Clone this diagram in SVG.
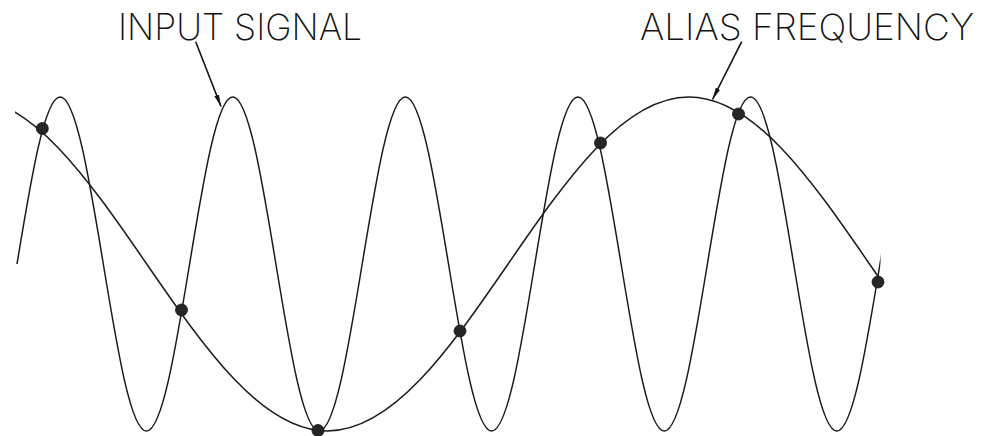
<svg xmlns="http://www.w3.org/2000/svg" width="984" height="436" viewBox="0 0 984 436">
<style>
.curve{fill:none;stroke:#1a1a1a;stroke-width:1.5;stroke-linejoin:round}
.dot{fill:#262626;stroke:#111;stroke-width:0.8}
.lbl{font-family:"Inter","Liberation Sans",sans-serif;font-weight:200;font-size:36px;fill:#111}
.arrow{fill:none;stroke:#111;stroke-width:1.6}
</style>
<defs>
<clipPath id="plot"><rect x="15" y="0" width="865.5" height="436"/></clipPath>
<marker id="ah" markerUnits="userSpaceOnUse" markerWidth="14" markerHeight="8" refX="12" refY="3" orient="auto">
<path d="M0,0.6 L12,3 L0,5.4 Z" fill="#111"/>
</marker>
</defs>
<g id="input-signal" clip-path="url(#plot)">
<path class="curve" d="M17,264 c14.07,-85.55 27.53,-167 43.15,-167
s29.08,81.45 43.15,167 s27.53,167 43.15,167 s29.08,-81.45 43.15,-167 s27.53,-167 43.15,-167
s29.08,81.45 43.15,167 s27.53,167 43.15,167 s29.08,-81.45 43.15,-167 s27.53,-167 43.15,-167
s29.08,81.45 43.15,167 s27.53,167 43.15,167 s29.08,-81.45 43.15,-167 s27.53,-167 43.15,-167
s29.08,81.45 43.15,167 s27.53,167 43.15,167 s29.08,-81.45 43.15,-167 s27.53,-167 43.15,-167
s29.08,81.45 43.15,167 s27.53,167 43.15,167 s29.08,-81.45 43.15,-167 s27.53,-167 43.15,-167"/>
</g>
<g id="alias-frequency" clip-path="url(#plot)">
<path class="curve" d="M-34,97 c65.40,0 121.77,81.45 180.7,167 s115.30,167 180.7,167 s121.77,-81.45 180.7,-167 s115.30,-167 180.7,-167 s121.77,81.45 180.7,167 s115.30,167 180.7,167"/>
</g>
<g id="sample-1"><circle class="dot" cx="42.3" cy="128.5" r="6"/></g>
<g id="sample-2"><circle class="dot" cx="181.5" cy="310" r="6"/></g>
<g id="sample-3"><circle class="dot" cx="318" cy="430.5" r="6"/></g>
<g id="sample-4"><circle class="dot" cx="460" cy="331" r="6"/></g>
<g id="sample-5"><circle class="dot" cx="600.5" cy="143" r="6"/></g>
<g id="sample-6"><circle class="dot" cx="738.5" cy="114" r="6"/></g>
<g id="sample-7"><circle class="dot" cx="878" cy="282" r="6"/></g>
<g id="label-input"><text class="lbl" x="118" y="40" textLength="244" lengthAdjust="spacingAndGlyphs">INPUT SIGNAL</text></g>
<g id="label-alias"><text class="lbl" x="640" y="40" textLength="334" lengthAdjust="spacingAndGlyphs">ALIAS FREQUENCY</text></g>
<g id="connectors">
<line class="arrow" x1="195.7" y1="41.7" x2="221" y2="106.5" marker-end="url(#ah)"/>
<line class="arrow" x1="741.7" y1="41.7" x2="712.5" y2="99.5" marker-end="url(#ah)"/>
</g>
</svg>
